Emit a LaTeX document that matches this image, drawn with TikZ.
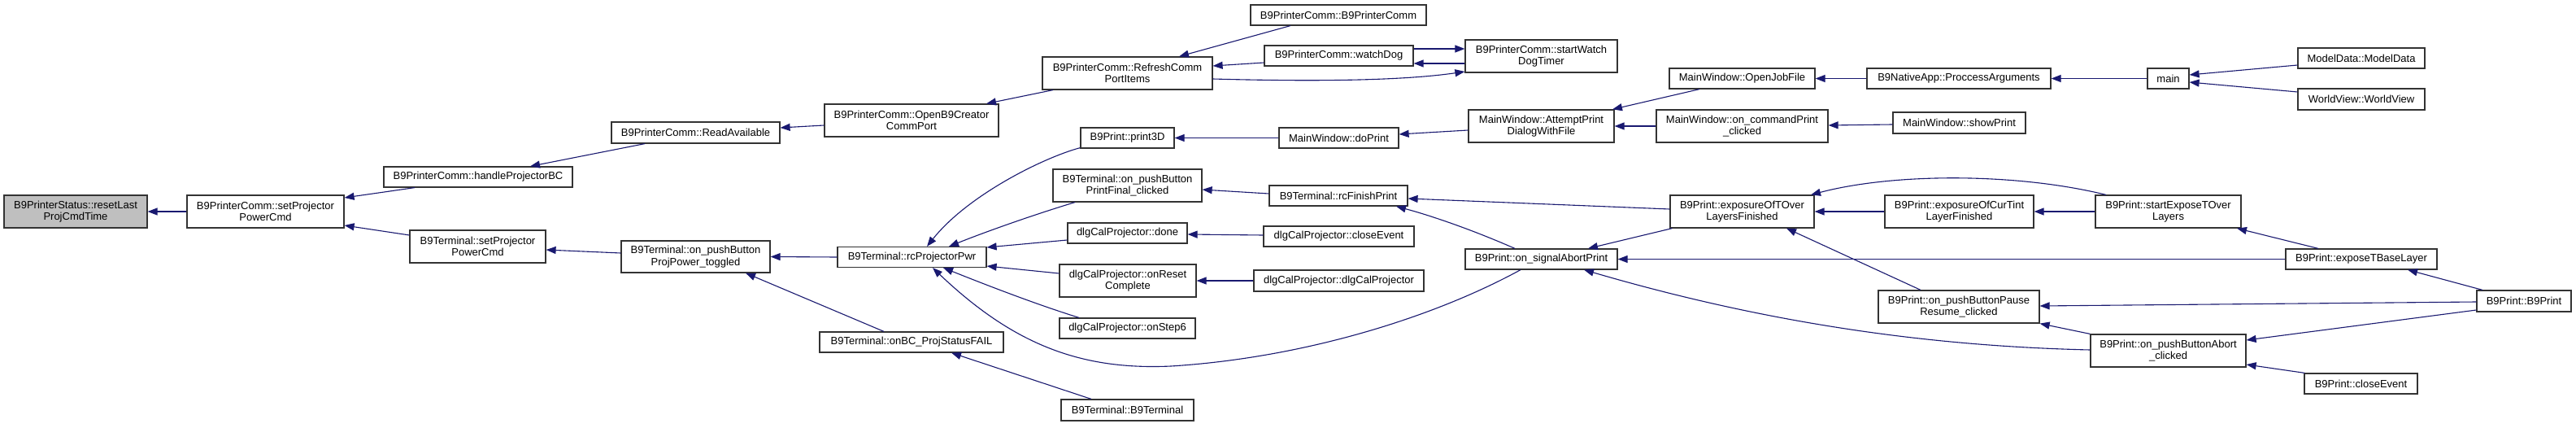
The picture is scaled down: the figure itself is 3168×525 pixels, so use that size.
\documentclass[tikz,border=0pt]{standalone}
\usepackage{fontspec}
\setmainfont{Liberation Sans}
\usetikzlibrary{arrows.meta}
\definecolor{edgeblue}{HTML}{191970}
\definecolor{rootgray}{HTML}{BFBFBF}
\definecolor{nodeline}{HTML}{333333}
\begin{document}
\begin{tikzpicture}[x=1pt,y=-1pt,
  nd/.style 2 args={draw=nodeline, line width=1.2pt, fill=white, inner sep=0pt,
    align=center, font=\fontsize{13}{14.5}\selectfont,
    minimum width=#1pt, minimum height=#2pt},
  ed/.style={draw=edgeblue, line width=1.1pt, -{Triangle[length=12pt,width=9pt]}}]
\fill[white] (0,0) rectangle (3168,525);
\useasboundingbox (0,0) rectangle (3168,525);
% nodes
\node[nd={176}{40},fill=rootgray] (reset) at (93,260) {B9PrinterStatus::resetLast\\ProjCmdTime};
\node[nd={193}{40}] (cspc) at (326.5,260) {B9PrinterComm::setProjector\\PowerCmd};
\node[nd={232}{25}] (hbc) at (588,217.5) {B9PrinterComm::handleProjectorBC};
\node[nd={167}{40}] (tspc) at (587.5,303) {B9Terminal::setProjector\\PowerCmd};
\node[nd={207}{26}] (ravail) at (855.5,163) {B9PrinterComm::ReadAvailable};
\node[nd={183}{39}] (ppt) at (855.5,315.5) {B9Terminal::on\_pushButton\\ProjPower\_toggled};
\node[nd={214}{40}] (ob9) at (1121,148) {B9PrinterComm::OpenB9Creator\\CommPort};
\node[nd={183}{25}] (rcpp) at (1121.5,316) {B9Terminal::rcProjectorPwr};
\node[nd={226}{25}] (onbc) at (1121,420.5) {B9Terminal::onBC\_ProjStatusFAIL};
\node[nd={209}{40}] (refr) at (1386.5,90) {B9PrinterComm::RefreshComm\\PortItems};
\node[nd={115}{25}] (p3d) at (1386.5,169.5) {B9Print::print3D};
\node[nd={183}{40}] (pfc) at (1386.5,228) {B9Terminal::on\_pushButton\\PrintFinal\_clicked};
\node[nd={147}{25}] (done) at (1386.5,286.5) {dlgCalProjector::done};
\node[nd={168}{40}] (orc) at (1387,345) {dlgCalProjector::onReset\\Complete};
\node[nd={167}{25}] (os6) at (1386.5,403.5) {dlgCalProjector::onStep6};
\node[nd={163}{26}] (b9t) at (1386.5,504) {B9Terminal::B9Terminal};
\node[nd={216}{25}] (b9c) at (1646,18.5) {B9PrinterComm::B9PrinterComm};
\node[nd={183}{25}] (wdog) at (1646.5,68.5) {B9PrinterComm::watchDog};
\node[nd={147}{25}] (dopr) at (1646.5,169.5) {MainWindow::doPrint};
\node[nd={170}{25}] (rcfp) at (1646,240.5) {B9Terminal::rcFinishPrint};
\node[nd={185}{25}] (dce) at (1646.5,290.5) {dlgCalProjector::closeEvent};
\node[nd={209}{26}] (dcp) at (1646.5,345) {dlgCalProjector::dlgCalProjector};
\node[nd={187}{40}] (swd) at (1895.5,69) {B9PrinterComm::startWatch\\DogTimer};
\node[nd={179}{40}] (apd) at (1895.5,155) {MainWindow::AttemptPrint\\DialogWithFile};
\node[nd={187}{25}] (sap) at (1895.5,318.5) {B9Print::on\_signalAbortPrint};
\node[nd={179}{25}] (ojf) at (2142.5,96.5) {MainWindow::OpenJobFile};
\node[nd={211}{40}] (ocp) at (2142.5,155) {MainWindow::on\_commandPrint\\\_clicked};
\node[nd={177}{40}] (eto) at (2142.5,260) {B9Print::exposureOfTOver\\LayersFinished};
\node[nd={226}{25}] (pra) at (2409,96.5) {B9NativeApp::ProccessArguments};
\node[nd={163}{26}] (shp) at (2409.5,151) {MainWindow::showPrint};
\node[nd={183}{40}] (ect) at (2409.5,260) {B9Print::exposureOfCurTint\\LayerFinished};
\node[nd={198}{40}] (pbp) at (2409,377) {B9Print::on\_pushButtonPause\\Resume\_clicked};
\node[nd={51}{25}] (main) at (2666.5,96.5) {main};
\node[nd={179}{40}] (sto) at (2666.5,260) {B9Print::startExposeTOver\\Layers};
\node[nd={191}{40}] (pba) at (2666.5,431) {B9Print::on\_pushButtonAbort\\\_clicked};
\node[nd={156}{25}] (mdd) at (2904,71.5) {ModelData::ModelData};
\node[nd={156}{26}] (wvw) at (2904,122) {WorldView::WorldView};
\node[nd={186}{25}] (etb) at (2904,318.5) {B9Print::exposeTBaseLayer};
\node[nd={139}{25}] (bce) at (2903.5,471.5) {B9Print::closeEvent};
\node[nd={116}{26}] (b9p) at (3104,370) {B9Print::B9Print};
\coordinate (lowpt) at (1440,450);
% edges
\draw[ed] (cspc.west) -- (reset.east);
\draw[ed] ([shift={(-78,0)}]hbc.south) -- ([shift={(0,-17)}]cspc.east);
\draw[ed] ([shift={(0,-14)}]tspc.west) -- ([shift={(0,17)}]cspc.east);
\draw[ed] ([shift={(-62.5,0)}]ravail.south) -- ([shift={(64,0)}]hbc.north);
\draw[ed] ([shift={(0,6)}]ob9.west) -- ([shift={(0,-6)}]ravail.east);
\draw[ed] ([shift={(-91.5,0)}]refr.south) -- ([shift={(92,0)}]ob9.north);
\draw[ed] ([shift={(-59,0)}]b9c.south) -- ([shift={(63.5,0)}]refr.north);
\draw[ed] ([shift={(0,8.5)}]wdog.west) -- ([shift={(0,-9)}]refr.east);
\draw[ed] ([shift={(0,7)}]refr.east) .. controls +(110,3) and +(-82,12) .. ([shift={(0,19)}]swd.west);
\draw[ed] ([shift={(0,-8.5)}]wdog.east) -- ([shift={(0,-9)}]swd.west);
\draw[ed] ([shift={(0,9)}]swd.west) -- ([shift={(0,9.5)}]wdog.east);
\draw[ed] (rcpp.west) -- (ppt.east);
\draw[ed] ([shift={(0,-4.5)}]ppt.west) -- ([shift={(0,4)}]tspc.east);
\draw[ed] ([shift={(-34,0)}]onbc.north) -- ([shift={(61.5,0)}]ppt.south);
\draw[ed] ([shift={(-44.5,0)}]b9t.north) -- ([shift={(49,0)}]onbc.south);
\draw[ed] ([shift={(0,-1)}]p3d.south west) .. controls +(-45,12) and +(50,-63) .. ([shift={(18.5,0)}]rcpp.north);
\draw[ed] ([shift={(-64.5,0)}]pfc.south) .. controls +(-50,15) and +(45,-18) .. ([shift={(45.5,0)}]rcpp.north);
\draw[ed] ([shift={(0,8.5)}]done.west) -- ([shift={(0,-12)}]rcpp.east);
\draw[ed] ([shift={(0,-9)}]orc.west) -- ([shift={(0,11)}]rcpp.east);
\draw[ed] ([shift={(-59.5,0)}]os6.north) .. controls +(-55,-17) and +(45,18) .. ([shift={(38.5,0)}]rcpp.south);
\draw[ed] ([shift={(-25.5,0)}]sap.south) .. controls +(-110,60) and +(160,-10) .. (lowpt)
  .. controls +(-110,5) and +(100,95) .. ([shift={(25.5,0)}]rcpp.south);
\draw[ed] (dopr.west) -- (p3d.east);
\draw[ed] ([shift={(0,-2.5)}]rcfp.west) -- ([shift={(0,5)}]pfc.east);
\draw[ed] ([shift={(0,-1.5)}]dce.west) -- ([shift={(0,1.5)}]done.east);
\draw[ed] (dcp.west) -- (orc.east);
\draw[ed] ([shift={(0,5)}]apd.west) -- ([shift={(0,-4.5)}]dopr.east);
\draw[ed] ([shift={(-52.5,0)}]ojf.south) -- ([shift={(87.5,0)}]apd.north);
\draw[ed] (ocp.west) -- (apd.east);
\draw[ed] ([shift={(0,-3)}]eto.west) -- ([shift={(0,3.5)}]rcfp.east);
\draw[ed] ([shift={(3,0)}]eto.south west) -- ([shift={(57.5,0)}]sap.north);
\draw[ed] ([shift={(-32.5,0)}]sap.north) .. controls +(-50,-22) and +(45,12) .. ([shift={(71,0)}]rcfp.south);
\draw[ed] (etb.west) -- (sap.east);
\draw[ed] ([shift={(0,-1)}]pba.west) .. controls +(-221,-5) and +(202,59) .. ([shift={(52.5,0)}]sap.south);
\draw[ed] (pra.west) -- (ojf.east);
\draw[ed] ([shift={(0,2)}]shp.west) -- ([shift={(0,-1)}]ocp.east);
\draw[ed] (ect.west) -- (eto.east);
\draw[ed] ([shift={(-76.5,0)}]sto.north) .. controls +(-110,-27) and +(103,-27) .. ([shift={(84.5,0)}]eto.north);
\draw[ed] (sto.west) -- (ect.east);
\draw[ed] ([shift={(-47,0)}]pbp.north) -- ([shift={(54.5,0)}]eto.south);
\draw[ed] (main.west) -- (pra.east);
\draw[ed] ([shift={(0,8.5)}]mdd.west) -- ([shift={(0,-4.5)}]main.east);
\draw[ed] ([shift={(0,-9)}]wvw.west) -- ([shift={(0,4.5)}]main.east);
\draw[ed] ([shift={(-53,0)}]etb.north) -- ([shift={(84.5,0)}]sto.south);
\draw[ed] ([shift={(-51,0)}]b9p.north) -- ([shift={(57,0)}]etb.south);
\draw[ed] ([shift={(0,1)}]b9p.west) -- ([shift={(0,-1)}]pbp.east);
\draw[ed] ([shift={(0,11)}]b9p.west) -- ([shift={(0,-13)}]pba.east);
\draw[ed] ([shift={(1,0)}]bce.north west) -- ([shift={(0,17)}]pba.east);
\draw[ed] (pba.north west) -- (pbp.south east);
\end{tikzpicture}
\end{document}
